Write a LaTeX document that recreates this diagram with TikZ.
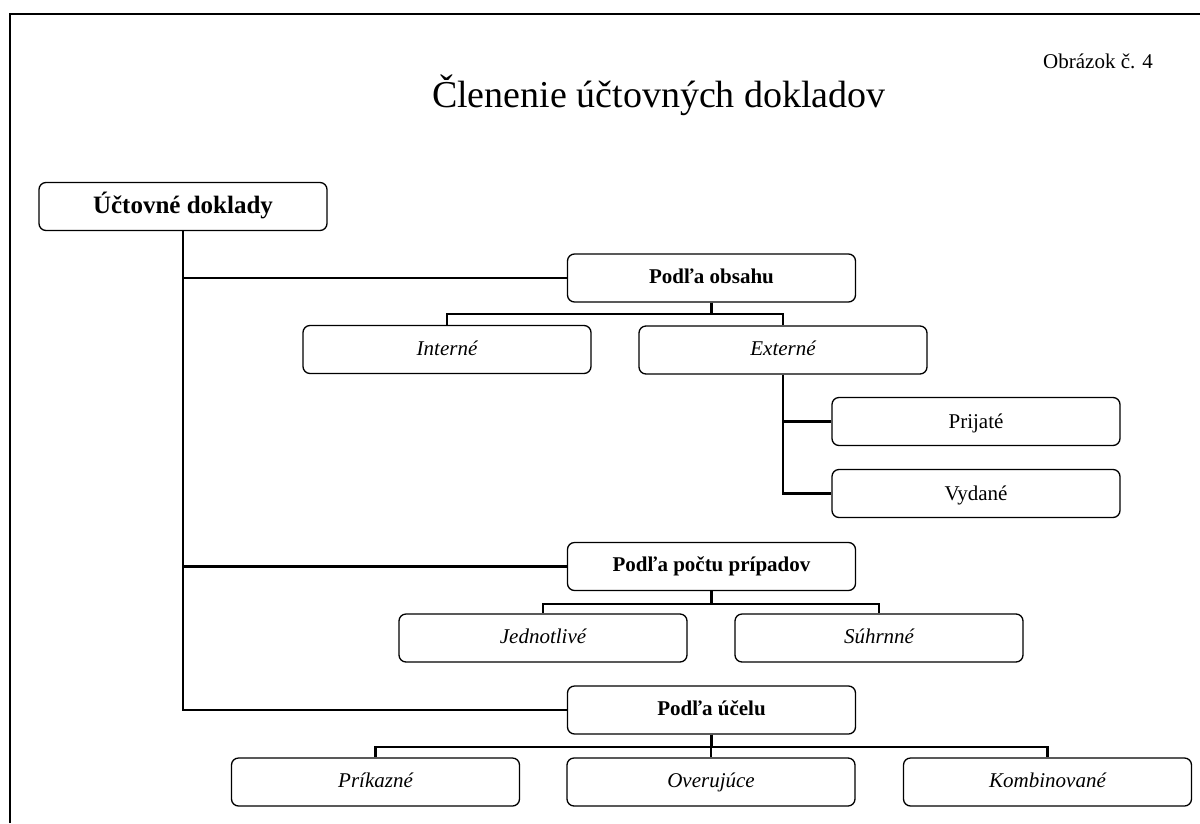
\documentclass[tikz,border=0pt]{standalone}
\usepackage{fontspec}
\setmainfont{Liberation Serif}
\begin{document}
\begin{tikzpicture}[x=1pt,y=-1pt,
  box/.style={draw, rounded corners=7pt, line width=1.3pt, minimum width=288pt,
    minimum height=48pt, inner sep=0pt, text height=16pt, text depth=3pt,
    font=\fontsize{21}{25}\selectfont},
  sub/.style={box, text height=15.5pt, text depth=4.5pt, font=\fontsize{21}{25}\selectfont\itshape},
  head/.style={box, text height=15pt, text depth=5pt, font=\fontsize{21}{25}\selectfont\bfseries},
  link/.style={line width=2.2pt}]
\useasboundingbox (0,0) rectangle (1200,823);
% frame
\draw[line width=2pt] (10,823) -- (10,14) -- (1200,14);

% title
\node[anchor=base east, inner sep=0pt, font=\fontsize{38}{42}\selectfont] (title) at (886,107) {Členenie účtovných dokladov};
\node[anchor=base west, inner sep=0pt, font=\fontsize{21}{25}\selectfont] (fig) at (1043,68) {Obrázok č. 4};

% nodes
\node[head, text height=17pt, text depth=4pt, font=\fontsize{25}{29}\selectfont\bfseries] (ud) at (183,206.5) {Účtovné doklady};
\node[head] (po) at (711.5,278) {Podľa obsahu};
\node[sub] (in) at (447,349.5) {Interné};
\node[sub] (ex) at (783,350) {Externé};
\node[box] (pr) at (976,421.5) {Prijaté};
\node[box] (vy) at (976,493.5) {Vydané};
\node[head] (pp) at (711.5,566.5) {Podľa počtu prípadov};
\node[sub] (je) at (543,638) {Jednotlivé};
\node[sub] (su) at (879,638) {Súhrnné};
\node[head] (pu) at (711.5,710) {Podľa účelu};
\node[sub] (pk) at (375.5,782) {Príkazné};
\node[sub] (ov) at (711,782) {Overujúce};
\node[sub] (ko) at (1047.5,782) {Kombinované};

% connectors
\draw[link] (ud.south) |- (po.west);
\draw[link] (ud.south) |- (pp.west);
\draw[link] (ud.south) |- (pu.west);

\draw[link] (po.south) -- ++(0,11) -| (in.north);
\draw[link] (po.south) -- ++(0,11) -| (ex.north);

\draw[link] (ex.south) |- (pr.west);
\draw[link] (ex.south) |- (vy.west);

\draw[link] (pp.south) -- ++(0,12.5) -| (je.north);
\draw[link] (pp.south) -- ++(0,12.5) -| (su.north);

\draw[link] (pu.south) -- ++(0,12) -| (pk.north);
\draw[link] (pu.south) -- ++(0,12) -| (ov.north);
\draw[link] (pu.south) -- ++(0,12) -| (ko.north);
\end{tikzpicture}
\end{document}
